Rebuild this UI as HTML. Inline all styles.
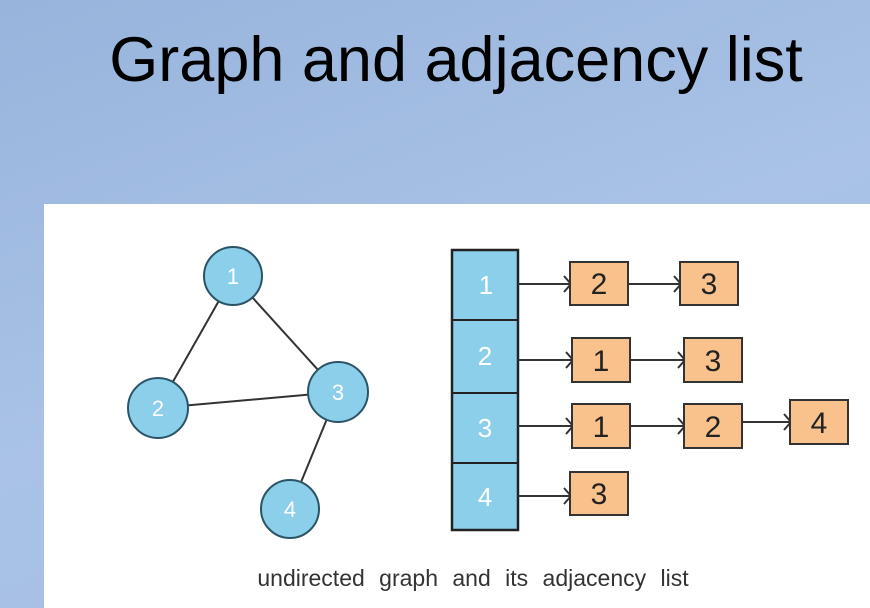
<!DOCTYPE html>
<html><head><style>
body{margin:0;width:870px;height:608px;overflow:hidden;background:linear-gradient(160deg,#98b4dc 0%,#a9c2e6 50%,#a4bde4 100%);font-family:"Liberation Sans",sans-serif;position:relative}
h1{position:absolute;left:0;width:912px;top:24px;margin:0;text-align:center;font:400 63px "Liberation Sans",sans-serif;color:#000;letter-spacing:0}
.panel{position:absolute;left:44px;top:204px;width:826px;height:404px;background:#fff}
</style></head><body>
<h1>Graph and adjacency list</h1>
<div class="panel"></div>
<svg width="870" height="608" style="position:absolute;left:0;top:0">
<g stroke="#333" stroke-width="2" fill="none">
<line x1="233" y1="276" x2="158" y2="408"/><line x1="233" y1="276" x2="338" y2="392"/>
<line x1="158" y1="408" x2="338" y2="392"/><line x1="338" y1="392" x2="290" y2="509"/>
</g>
<g fill="#8ccfea" stroke="#2a5566" stroke-width="2">
<circle cx="233" cy="276" r="29"/><circle cx="158" cy="408" r="30"/><circle cx="338" cy="392" r="30"/><circle cx="290" cy="509" r="29"/>
</g>
<g fill="#fff" font-size="22" text-anchor="middle" font-family="Liberation Sans">
<text x="233" y="284">1</text><text x="158" y="416">2</text><text x="338" y="400">3</text><text x="290" y="517">4</text>
</g>
<rect x="452" y="250" width="66" height="280" fill="#8ccfea" stroke="#222" stroke-width="2.5"/>
<g stroke="#222" stroke-width="2"><line x1="452" y1="320" x2="518" y2="320"/><line x1="452" y1="393" x2="518" y2="393"/><line x1="452" y1="463" x2="518" y2="463"/></g>
<g fill="#fff" font-size="26" text-anchor="middle"><text x="486" y="294">1</text><text x="485" y="365">2</text><text x="485" y="437">3</text><text x="485" y="506">4</text></g>
<g stroke="#333" stroke-width="2" fill="none">
<path d="M518 284H570M564 276l7 8-7 8"/><path d="M628 284H680M674 276l7 8-7 8"/>
<path d="M518 360H572M566 352l7 8-7 8"/><path d="M630 360H684M678 352l7 8-7 8"/>
<path d="M518 426H572M566 418l7 8-7 8"/><path d="M630 426H684M678 418l7 8-7 8"/><path d="M742 422H790M784 414l7 8-7 8"/>
<path d="M518 496H570M564 488l7 8-7 8"/>
</g>
<g fill="#f9c18c" stroke="#333" stroke-width="2">
<rect x="570" y="262" width="58" height="43"/><rect x="680" y="262" width="58" height="43"/>
<rect x="572" y="338" width="58" height="44"/><rect x="684" y="338" width="58" height="44"/>
<rect x="572" y="404" width="58" height="44"/><rect x="684" y="404" width="58" height="44"/><rect x="790" y="400" width="58" height="44"/>
<rect x="570" y="472" width="58" height="43"/>
</g>
<g fill="#222" font-size="30" text-anchor="middle">
<text x="599" y="294">2</text><text x="709" y="294">3</text>
<text x="601" y="371">1</text><text x="713" y="371">3</text>
<text x="601" y="437">1</text><text x="713" y="437">2</text><text x="819" y="433">4</text>
<text x="599" y="504">3</text>
</g>
<text x="473" y="586" font-size="23" fill="#333" text-anchor="middle" word-spacing="8">undirected graph and its adjacency list</text>
</svg>
</body></html>
